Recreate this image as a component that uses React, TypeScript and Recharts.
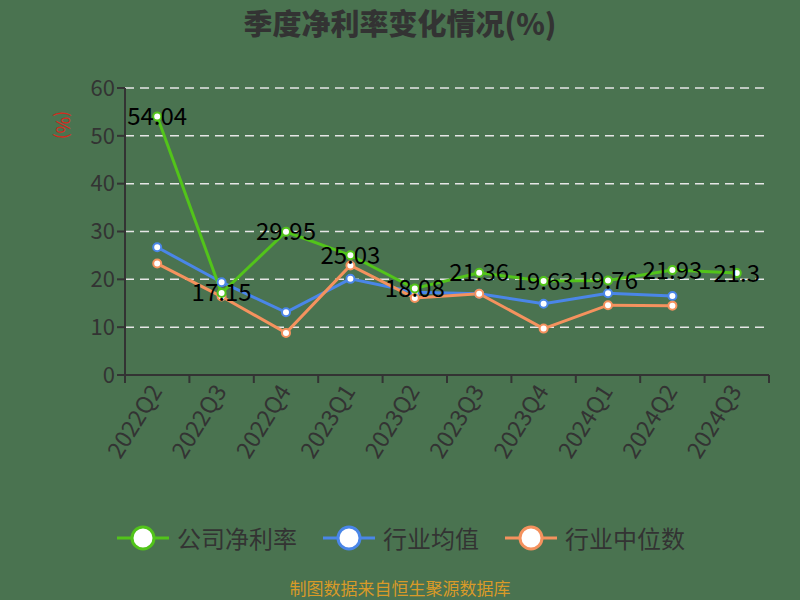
import React from 'react';
import { LineChart, Line, XAxis, YAxis, CartesianGrid, LabelList, Legend } from 'recharts';

const quarters = ['2022Q2', '2022Q3', '2022Q4', '2023Q1', '2023Q2', '2023Q3', '2023Q4', '2024Q1', '2024Q2', '2024Q3'];
const netMargin = [54.04, 17.15, 29.95, 25.03, 18.08, 21.36, 19.63, 19.76, 21.93, 21.3];
const industryAvg = [26.7, 19.4, 13.1, 20.1, 17.3, 17.0, 14.9, 17.1, 16.5, null];
const industryMedian = [23.3, 16.4, 8.8, 22.9, 16.1, 17.0, 9.7, 14.6, 14.5, null];
const yTicks = [0, 10, 20, 30, 40, 50, 60];

const seriesNames = ['公司净利率', '行业均值', '行业中位数'];
const COLORS = ['#52c41a', '#4a86e8', '#f5925e'];

const FONT = '"Noto Sans CJK SC", "Noto Sans", sans-serif';
const BG = '#4a7350';

const data = quarters.map((q, i) => ({
  x: i + 0.5,
  quarter: q,
  net: netMargin[i],
  avg: industryAvg[i],
  median: industryMedian[i],
}));

const boundaryTicks = quarters.map((_q, i) => i).concat(quarters.length);

const QuarterTick = (props: any) => {
  const { x, y, payload, width } = props;
  const idx = payload.value;
  if (idx >= quarters.length) return null;
  const w = typeof width === 'number' && width > 0 ? width : 644;
  const lx = x + w / quarters.length / 2 - 1;
  const ly = y + 2;
  return (
    <text
      x={lx}
      y={ly}
      dy="0.35em"
      textAnchor="end"
      transform={`rotate(-58, ${lx}, ${ly})`}
      fontSize={23}
      fill="#333"
      fontFamily={FONT}
    >
      {quarters[idx]}
    </text>
  );
};

const LegendContent = () => (
  <div style={{ display: 'flex', justifyContent: 'center', alignItems: 'center', gap: 24, fontFamily: FONT }}>
    {seriesNames.map((name, i) => (
      <div key={name} style={{ display: 'flex', alignItems: 'center' }}>
        <svg width={56} height={28}>
          <line x1={2} y1={14} x2={54} y2={14} stroke={COLORS[i]} strokeWidth={3} />
          <circle cx={28} cy={14} r={11} fill="#fff" stroke={COLORS[i]} strokeWidth={3} />
        </svg>
        <span style={{ fontSize: 24, color: '#333', marginLeft: 6 }}>{name}</span>
      </div>
    ))}
  </div>
);

export default function App() {
  return (
    <div style={{ position: 'absolute', left: 0, top: 0, width: 800, height: 600, background: BG, fontFamily: FONT, overflow: 'hidden' }}>
      <div
        style={{
          position: 'absolute',
          top: 1,
          left: 0,
          width: 800,
          textAlign: 'center',
          fontSize: 29,
          fontWeight: 900,
          color: '#333',
        }}
      >
        季度净利率变化情况(%)
      </div>
      <LineChart width={800} height={600} data={data} margin={{ top: 88, right: 31, left: 65, bottom: 125 }}>
        <CartesianGrid horizontal vertical={false} stroke="#e6e6e6" strokeDasharray="9 6" strokeWidth={1.5} />
        <XAxis
          dataKey="x"
          type="number"
          domain={[0, quarters.length]}
          ticks={boundaryTicks}
          interval={0}
          tick={<QuarterTick />}
          tickSize={8}
          tickLine={{ stroke: '#333', strokeWidth: 2 }}
          axisLine={{ stroke: '#333', strokeWidth: 2 }}
          height={100}
        />
        <YAxis
          domain={[0, 60]}
          ticks={yTicks}
          width={60}
          tickSize={8}
          tick={{ fontSize: 22, fill: '#333', fontFamily: FONT }}
          tickLine={{ stroke: '#333', strokeWidth: 2 }}
          axisLine={{ stroke: '#333', strokeWidth: 2 }}
          label={{
            content: (p: any) => {
              const vb = p.viewBox || { x: 65, y: 88 };
              const lx = vb.x - 3;
              const ly = vb.y + 37;
              return (
                <text
                  x={lx}
                  y={ly}
                  textAnchor="middle"
                  dy="0.35em"
                  transform={`rotate(90, ${lx}, ${ly})`}
                  fontSize={18}
                  fill="#d42a1e"
                  fontFamily={FONT}
                >
                  (%)
                </text>
              );
            },
          }}
        />
        <Legend
          verticalAlign="middle"
          align="center"
          layout="horizontal"
          content={<LegendContent />}
          wrapperStyle={{ top: 520, left: 0, width: 800 }}
        />
        <Line
          dataKey="avg"
          name={seriesNames[1]}
          stroke={COLORS[1]}
          strokeWidth={3}
          dot={{ r: 4, fill: '#fff', stroke: COLORS[1], strokeWidth: 2 }}
          isAnimationActive={false}
        />
        <Line
          dataKey="median"
          name={seriesNames[2]}
          stroke={COLORS[2]}
          strokeWidth={3}
          dot={{ r: 4, fill: '#fff', stroke: COLORS[2], strokeWidth: 2 }}
          isAnimationActive={false}
        />
        <Line
          dataKey="net"
          name={seriesNames[0]}
          stroke={COLORS[0]}
          strokeWidth={3}
          dot={{ r: 4, fill: '#fff', stroke: COLORS[0], strokeWidth: 2 }}
          isAnimationActive={false}
        >
          <LabelList dataKey="net" position="center" fontSize={24} fill="#000" fontFamily={FONT} />
        </Line>
      </LineChart>
      <div
        style={{
          position: 'absolute',
          top: 578,
          left: 0,
          width: 800,
          textAlign: 'center',
          fontSize: 17,
          lineHeight: '20px',
          color: '#d99a28',
        }}
      >
        制图数据来自恒生聚源数据库
      </div>
    </div>
  );
}
